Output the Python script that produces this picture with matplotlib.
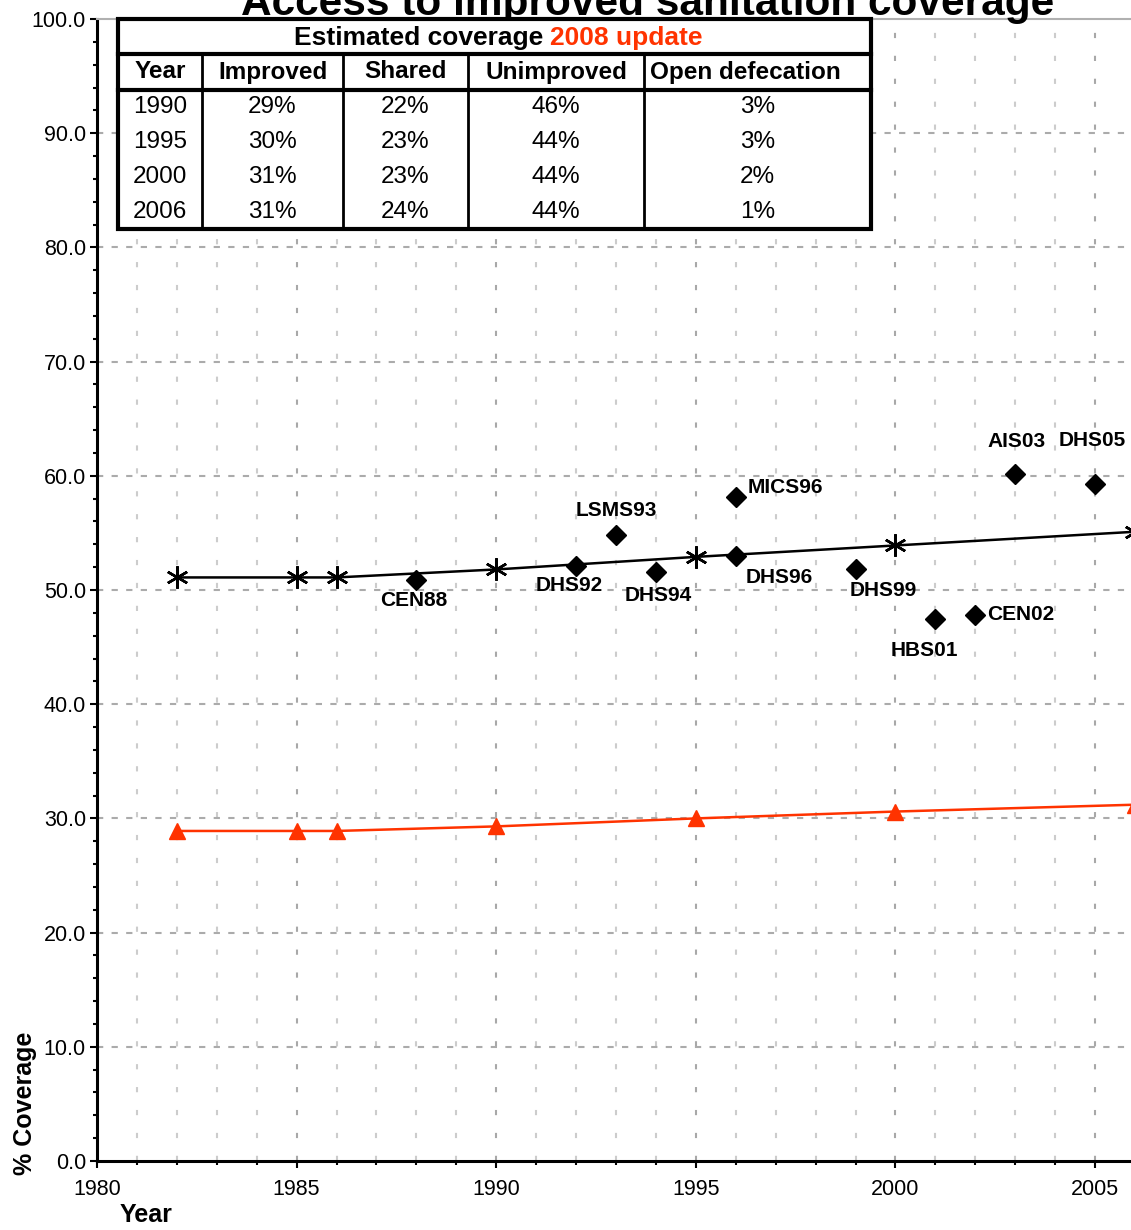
import matplotlib as mpl
mpl.use('Agg')
import matplotlib.pyplot as plt
from matplotlib.ticker import MultipleLocator, FormatStrFormatter
from matplotlib.patches import Rectangle

plt.rcParams['font.family'] = ['Liberation Sans', 'DejaVu Sans']

# trend lines
trend_years = [1982, 1985, 1986, 1990, 1995, 2000, 2006]
improved_shared = [51.1, 51.1, 51.1, 51.8, 52.9, 53.9, 55.1]
improved = [28.9, 28.9, 28.9, 29.3, 30.0, 30.6, 31.2]

# survey points
survey_names = ['CEN88', 'DHS92', 'LSMS93', 'DHS94', 'MICS96', 'DHS96',
                'DHS99', 'HBS01', 'CEN02', 'AIS03', 'DHS05']
survey_years = [1988, 1992, 1993, 1994, 1996, 1996, 1999, 2001, 2002, 2003, 2005]
survey_values = [50.9, 52.1, 54.8, 51.6, 58.1, 53.0, 51.8, 47.5, 47.8, 60.2, 59.3]

# table
table_title = 'Estimated coverage'
table_title_red = '2008 update'
table_cols = ['Year', 'Improved', 'Shared', 'Unimproved', 'Open defecation']
table_rows = [
    ['1990', '29%', '22%', '46%', '3%'],
    ['1995', '30%', '23%', '44%', '3%'],
    ['2000', '31%', '23%', '44%', '2%'],
    ['2006', '31%', '24%', '44%', '1%'],
]

RED = '#ff3300'

# label offsets in pixels (dx, dy, ha)
label_pos = {
    'CEN88': (-3, -21, 'center'), 'DHS92': (-7, -19, 'center'),
    'LSMS93': (0, 25, 'center'), 'DHS94': (2, -24, 'center'),
    'MICS96': (12, 10, 'left'), 'DHS96': (10, -22, 'left'),
    'DHS99': (-6, -21, 'left'), 'HBS01': (-11, -32, 'center'),
    'CEN02': (12, 1, 'left'), 'AIS03': (1, 32, 'center'),
    'DHS05': (-3, 43, 'center'),
}

W, H = 1131, 1230
fig = plt.figure(figsize=(W / 100, H / 100), dpi=100)
ax = fig.add_axes([97 / W, 1 - 1161 / H, 1 - 97 / W, (1161 - 19) / H])

ax.set_xlim(1980, 2005.9)
ax.set_ylim(0, 100)

# grid
for yr in range(1981, 2006):
    major = yr % 5 == 0
    ax.axvline(yr, color='#a8a8a8' if major else '#cccccc', lw=1.5,
               dashes=(2.5, 8.5), zorder=0)
for v in range(10, 100, 10):
    ax.axhline(v, color='#ababab', lw=1.5, dashes=(3, 4), zorder=0)

ax.plot(trend_years, improved_shared, color='black', lw=1.8,
        marker=(6, 2, 0), ms=16, mew=1.8, zorder=3)
ax.plot(trend_years, improved, color=RED, lw=1.8, marker='^', ms=11,
        mec=RED, mfc=RED, zorder=3)
ax.plot(survey_years, survey_values, ls='none', marker='D', ms=10.5,
        color='black', zorder=4)

for name, x, y in zip(survey_names, survey_years, survey_values):
    dx, dy, ha = label_pos[name]
    ax.annotate(name, (x, y), xytext=(dx, dy), textcoords='offset pixels',
                ha=ha, va='center', fontsize=15, fontweight='bold')

ax.xaxis.set_major_locator(MultipleLocator(5))
ax.xaxis.set_minor_locator(MultipleLocator(1))
ax.yaxis.set_major_locator(MultipleLocator(10))
ax.yaxis.set_minor_locator(MultipleLocator(2))
ax.yaxis.set_major_formatter(FormatStrFormatter('%.1f'))
ax.tick_params(which='major', direction='out', length=5, width=1.5, labelsize=15.5)
ax.tick_params(which='minor', direction='out', length=3, width=1.5)
ax.tick_params(axis='x', pad=8)
ax.tick_params(axis='y', pad=3)

for s in ['left', 'bottom']:
    ax.spines[s].set_linewidth(2.2)
ax.spines['right'].set_visible(False)
ax.spines['top'].set_color('#b0b0b0')
ax.spines['top'].set_linewidth(1.5)

# title and axis labels
fig.text(648 / W, 1 - 15 / H, 'Access to improved sanitation coverage',
         ha='center', va='baseline', fontsize=30.5, fontweight='bold')
fig.text(25 / W, 1 - 1175 / H, '% Coverage', rotation=90, ha='center',
         va='bottom', fontsize=18, fontweight='bold')
fig.text(120 / W, 1 - 1215 / H, 'Year', ha='left', va='center',
         fontsize=18, fontweight='bold')

# table overlay in pixel coordinates
ov = fig.add_axes([0, 0, 1, 1], zorder=10)
ov.set_xlim(0, W)
ov.set_ylim(H, 0)
ov.axis('off')
ov.patch.set_alpha(0)

left, right, top, bot = 118, 871, 19, 229
ov.add_patch(Rectangle((left, top), right - left, bot - top, facecolor='white',
                       edgecolor='black', lw=3))
ov.plot([left, right], [54, 54], color='black', lw=3)
ov.plot([left, right], [90, 90], color='black', lw=3)
col_edges = [left, 202, 343, 468, 644, right]
for xe in col_edges[1:-1]:
    ov.plot([xe, xe], [54, bot], color='black', lw=2)

ov.text(543, 38, table_title, ha='right', va='center', fontsize=19,
        fontweight='bold')
ov.text(550, 38, table_title_red, ha='left', va='center', fontsize=19,
        fontweight='bold', color=RED)
centers = [(a + b) / 2 for a, b in zip(col_edges[:-1], col_edges[1:])]
head_x = centers[:-1] + [745]
for cx, name in zip(head_x, table_cols):
    ov.text(cx, 72, name, ha='center', va='center', fontsize=17.5,
            fontweight='bold')
for i, row in enumerate(table_rows):
    yc = 107 + i * 35
    for cx, val in zip(centers, row):
        ov.text(cx, yc, val, ha='center', va='center', fontsize=17.5)

fig.savefig('out.png', dpi=100)
plt.close()
